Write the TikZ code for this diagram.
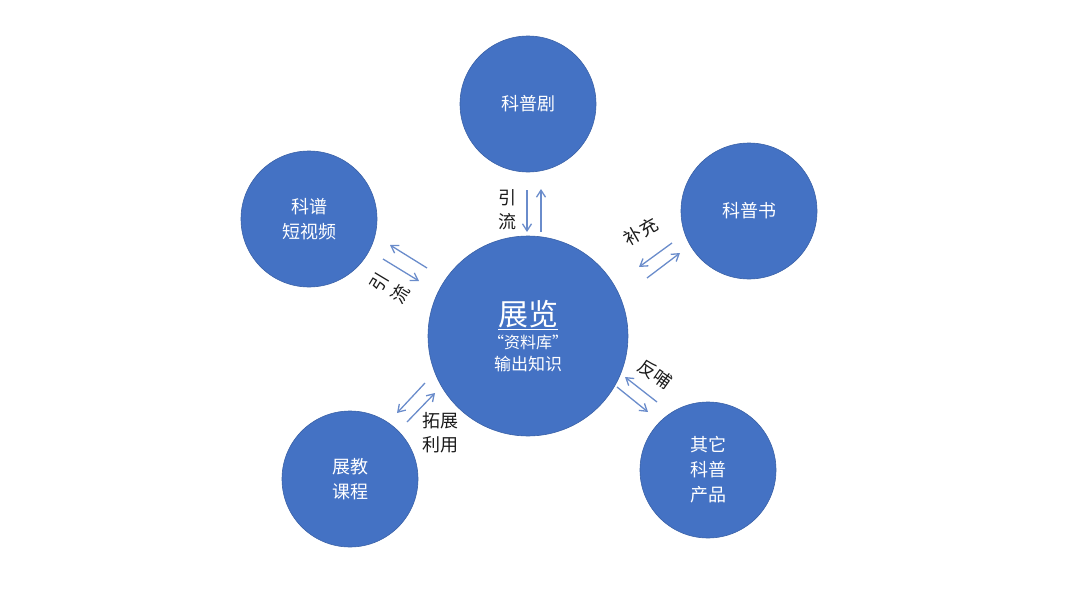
\documentclass[tikz,border=0pt]{standalone}
\usepackage{fontspec}
\setmainfont{Noto Sans CJK SC}
\usetikzlibrary{arrows.meta}
\definecolor{cblue}{HTML}{4472C4}
\definecolor{ablue}{HTML}{6A8CCB}
\definecolor{tgray}{HTML}{1A1A1A}
\tikzset{
  bubble/.style={circle, fill=cblue, draw=cblue!85!black, line width=0.6pt, minimum size=#1, inner sep=0pt, text=white, align=center, font=\fontsize{18}{25}\selectfont},
  flow/.style={draw=ablue, line width=1.3pt, -{Straight Barb[length=7pt,width=9pt]}},
  lab/.style={text=tgray, align=center, font=\fontsize{18}{24}\selectfont, inner sep=0pt}
}
\begin{document}
\begin{tikzpicture}[x=1pt,y=-1pt]
\useasboundingbox (0,0) rectangle (1080,608);
\node[bubble=200pt] (c) at (528,336) {\fontsize{30}{34}\selectfont\underline{展览}\\[-2pt]\fontsize{16}{20}\selectfont “资料库”\\[-3pt]\fontsize{17}{22}\selectfont 输出知识};
\node[bubble=136pt] (t) at (528,104) {科普剧};
\node[bubble=136pt] (ul) at (309,219) {科谱\\短视频};
\node[bubble=136pt] (ur) at (749,211) {科普书};
\node[bubble=136pt] (bl) at (350,479) {展教\\课程};
\node[bubble=136pt] (br) at (708,470) {其它\\科普\\产品};
% top arrows
\coordinate (t1a) at (527,190); \coordinate (t1b) at (527,232);
\coordinate (t2a) at (541,232); \coordinate (t2b) at (541,189);
\draw[flow] (t1a) -- (t1b);
\draw[flow] (t2a) -- (t2b);
\node[lab] (lt) at (507,210) {引\\流};
% upper left arrows
\coordinate (l1a) at (427,268); \coordinate (l1b) at (390,245);
\coordinate (l2a) at (383,259); \coordinate (l2b) at (419,281);
\draw[flow] (l1a) -- (l1b);
\draw[flow] (l2a) -- (l2b);
\node[lab, rotate=59] (ll) at (390,288) {引\\流};
% upper right arrows
\coordinate (r1a) at (672,243); \coordinate (r1b) at (639,267);
\coordinate (r2a) at (647,278); \coordinate (r2b) at (680,253);
\draw[flow] (r1a) -- (r1b);
\draw[flow] (r2a) -- (r2b);
\node[lab, rotate=30] (lr) at (641,232) {补充};
% lower right arrows
\coordinate (b1a) at (657,402); \coordinate (b1b) at (625,377);
\coordinate (b2a) at (617,387); \coordinate (b2b) at (648,412);
\draw[flow] (b1a) -- (b1b);
\draw[flow] (b2a) -- (b2b);
\node[lab, rotate=-35] (lb) at (655,374) {反哺};
% lower left arrows
\coordinate (s1a) at (425,383); \coordinate (s1b) at (397,413);
\coordinate (s2a) at (407,422); \coordinate (s2b) at (435,393);
\draw[flow] (s1a) -- (s1b);
\draw[flow] (s2a) -- (s2b);
\node[lab] (ls) at (440,433) {拓展\\利用};
\end{tikzpicture}
\end{document}
